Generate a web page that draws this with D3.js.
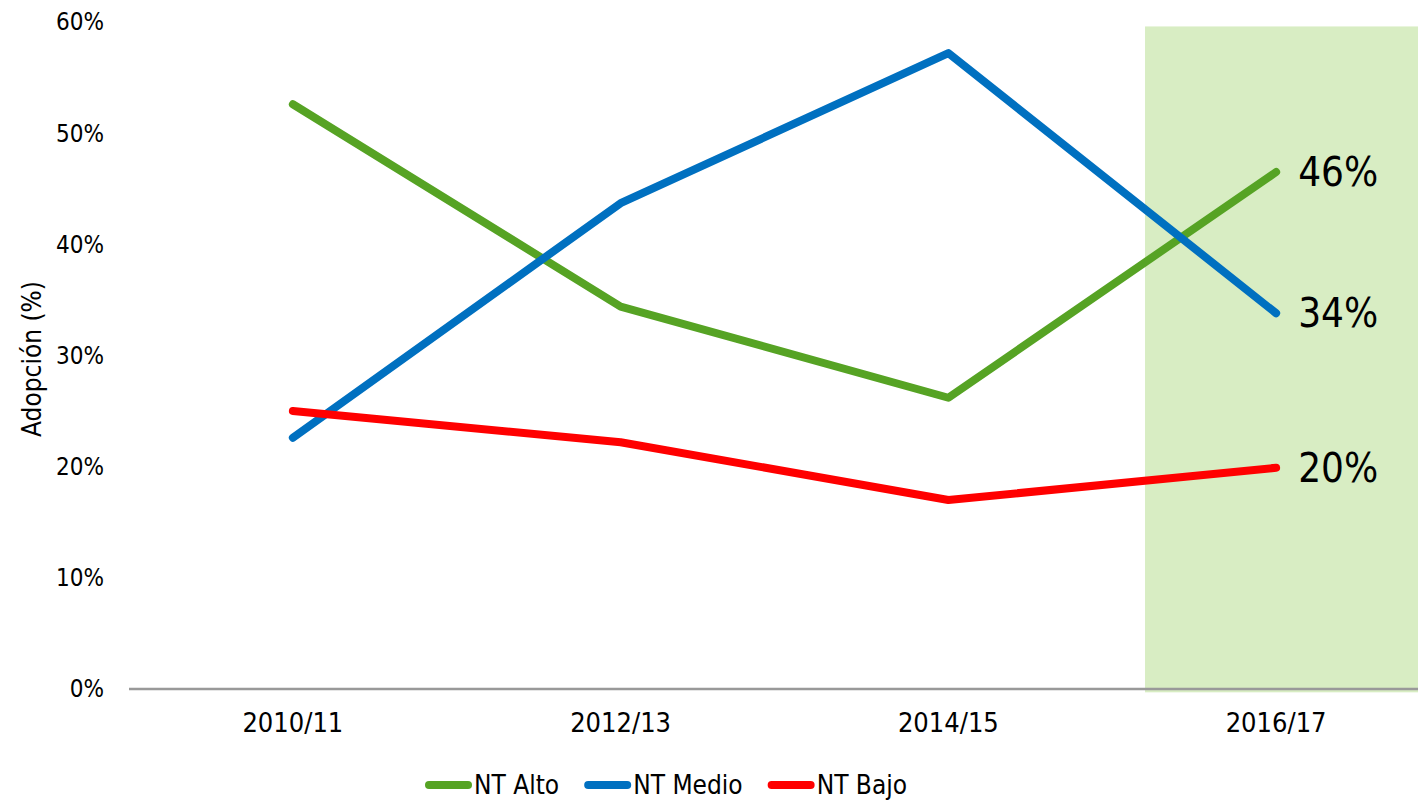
<!DOCTYPE html>
<html>
<head>
<meta charset="utf-8">
<script src="https://cdn.jsdelivr.net/npm/d3@7"></script>
<style>
  html, body { margin: 0; padding: 0; background: #fff; }
  svg { display: block; font-family: "DejaVu Sans Condensed", "DejaVu Sans", sans-serif; }
</style>
</head>
<body>
<svg id="chart"></svg>
<script>
// data
const periods = ["2010/11", "2012/13", "2014/15", "2016/17"];
const ntAlto = [52.6, 34.4, 26.2, 46.5];
const ntMedio = [22.6, 43.7, 57.2, 33.8];
const ntBajo = [25.0, 22.2, 17.0, 19.9];
const endLabels = ["46%", "34%", "20%"];
const seriesNames = ["NT Alto", "NT Medio", "NT Bajo"];
const yTicks = [0, 10, 20, 30, 40, 50, 60];
const highlightPeriod = "2016/17";

const colors = ["#56a324", "#0070c0", "#ff0000"];

const width = 1418, height = 805;
const svg = d3.select("#chart").attr("width", width).attr("height", height);

// plot runs off the right edge like in the original
const x = d3.scaleBand().domain(periods).range([129, 1440]).padding(0);
const y = d3.scaleLinear().domain([0, 60]).range([689, 22]);

// highlighted last period
const bx = x(highlightPeriod) + x.bandwidth() * 0.1;
svg.append("rect")
  .attr("x", bx)
  .attr("y", y(59.6))
  .attr("width", width - bx)
  .attr("height", y(-0.3) - y(59.6))
  .attr("fill", "#d8edc3");

// y tick labels (no gridlines)
svg.append("g")
  .selectAll("text")
  .data(yTicks)
  .join("text")
  .attr("x", 104)
  .attr("y", (d) => y(d))
  .attr("dy", "0.35em")
  .attr("text-anchor", "end")
  .attr("font-size", 24)
  .attr("fill", "#000")
  .text((d) => d + "%");

// x axis
const xAxis = svg.append("g")
  .attr("transform", `translate(0,${y(0)})`)
  .call(d3.axisBottom(x).tickSize(0).tickPadding(24));
xAxis.select(".domain").attr("stroke", "#999").attr("stroke-width", 2.5).attr("d", `M129,0H${width}`);
xAxis.selectAll("text")
  .attr("font-size", 27)
  .attr("font-family", "DejaVu Sans Condensed, DejaVu Sans, sans-serif")
  .attr("fill", "#000");

// y axis title
svg.append("text")
  .attr("transform", "translate(32,359) rotate(-90)")
  .attr("dy", "0.35em")
  .attr("text-anchor", "middle")
  .attr("font-size", 26)
  .text("Adopción (%)");

// lines
const series = [ntAlto, ntMedio, ntBajo];
const line = d3.line()
  .x((d, i) => x(periods[i]) + x.bandwidth() / 2)
  .y((d) => y(d));

svg.append("g")
  .selectAll("path")
  .data(series)
  .join("path")
  .attr("d", (d) => line(d))
  .attr("fill", "none")
  .attr("stroke", (d, i) => colors[i])
  .attr("stroke-width", 8)
  .attr("stroke-linecap", "round")
  .attr("stroke-linejoin", "round");

// end labels
const last = periods.length - 1;
svg.append("g")
  .selectAll("text")
  .data(series)
  .join("text")
  .attr("x", x(periods[last]) + x.bandwidth() / 2 + 22)
  .attr("y", (d) => y(d[last]))
  .attr("dy", "0.35em")
  .attr("font-size", 40)
  .attr("fill", "#000")
  .text((d, i) => endLabels[i]);

// legend
const legend = svg.append("g");
let lx = 425;
const ly = 785;
seriesNames.forEach((name, i) => {
  legend.append("line")
    .attr("x1", lx + 4).attr("x2", lx + 43)
    .attr("y1", ly).attr("y2", ly)
    .attr("stroke", colors[i])
    .attr("stroke-width", 8)
    .attr("stroke-linecap", "round");
  const t = legend.append("text")
    .attr("x", lx + 49)
    .attr("y", ly)
    .attr("dy", "0.35em")
    .attr("font-size", 26)
    .text(name);
  lx += 49 + t.node().getComputedTextLength() + 25;
});
</script>
</body>
</html>
